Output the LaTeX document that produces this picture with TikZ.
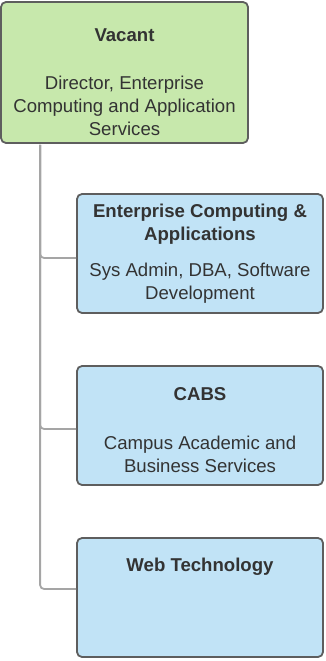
\documentclass[tikz,border=0pt]{standalone}
\usepackage{fontspec}
\setmainfont{Liberation Sans}
\usetikzlibrary{positioning,calc}

\definecolor{vacantgreen}{HTML}{C7E8AC}
\definecolor{unitblue}{HTML}{C1E3F6}
\definecolor{boxline}{HTML}{5E5E5E}
\definecolor{linkgray}{HTML}{A5A5A5}
\definecolor{textgray}{HTML}{333333}

\begin{document}
\begin{tikzpicture}[x=1pt,y=-1pt]
\useasboundingbox (0,0) rectangle (326,661);

% Styles for the boxes, their texts and the connectors
\tikzstyle{box}=[draw=boxline, line width=1.8pt, rounded corners=5pt, inner sep=0pt]
\tikzstyle{title}=[font=\fontsize{18.6}{22.5}\selectfont\bfseries, text=textgray, align=center, inner sep=0pt]
\tikzstyle{body}=[font=\fontsize{18.6}{23}\selectfont, text=textgray, align=center, inner sep=0pt]
\tikzstyle{link}=[draw=linkgray, line width=1.8pt, rounded corners=4pt]

% The director box at the top
\node[box, fill=vacantgreen, minimum width=247pt, minimum height=141pt] (vacant) at (124.5,72.5) {};
\node[title] (vacant-title) at (124.5,35.5) {Vacant};
\node[body] (vacant-text) at (124.5,106) {Director, Enterprise\\Computing and Application\\Services};

% The three units below it
\node[box, fill=unitblue, minimum width=246pt, minimum height=119pt] (eca) at (200,253.5) {};
\node[title] (eca-title) at (200,224) {Enterprise Computing \&\\Applications};
\node[body] (eca-text) at (200,283) {Sys Admin, DBA, Software\\Development};

\node[box, fill=unitblue, minimum width=246pt, minimum height=119pt] (cabs) at (200,425.5) {};
\node[title] (cabs-title) at (200,394) {CABS};
\node[body] (cabs-text) at (200,454) {Campus Academic and\\Business Services};

\node[box, fill=unitblue, minimum width=246pt, minimum height=119pt] (web) at (200,597.5) {};
\node[title] (web-title) at (200,566.5) {Web Technology};

% Connectors: one trunk down the left, a branch into each unit
\coordinate (trunk) at ($(vacant.south west)+(40,1)$);
\draw[link] (trunk) |- ([yshift=-4.5pt]eca.west);
\draw[link] (trunk) |- ([yshift=-3.5pt]cabs.west);
\draw[link] (trunk) |- ([yshift=8.5pt]web.west);

\end{tikzpicture}
\end{document}
